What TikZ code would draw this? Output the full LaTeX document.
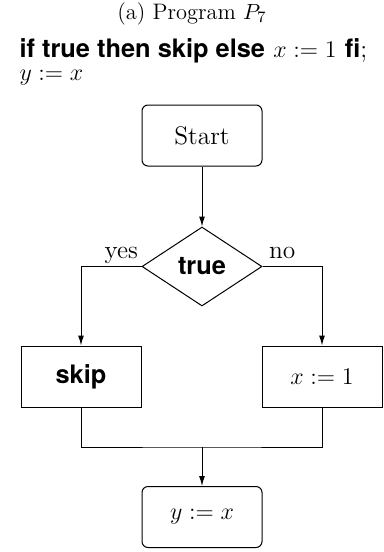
\documentclass[tikz,border=0pt]{standalone}
\usepackage{fontspec}
\usepackage{amsmath}
\usetikzlibrary{arrows.meta,shapes.geometric}
\newfontfamily\keyfont{TeX Gyre Heros}
\newcommand{\kw}[1]{{\keyfont\bfseries #1}}

\begin{document}
\begin{tikzpicture}[x=0.5pt, y=-0.5pt, >={Latex[length=5pt,width=3pt]},
  line width=0.5pt, font=\fontsize{12.7}{15}\selectfont,
  roundbox/.style={draw, rounded corners=3pt, minimum width=60pt,
    minimum height=30.5pt, inner sep=0pt},
  plainbox/.style={draw, minimum width=60pt, minimum height=30.5pt,
    inner sep=0pt},
  decision/.style={draw, diamond, minimum width=60pt, minimum height=39.5pt,
    inner sep=0pt}]

  \useasboundingbox (0,0) rectangle (384,552);

  % ============== Caption and program text ==============
  \node[anchor=base, font=\fontsize{11.2}{13}\selectfont] (caption) at (192,19)
    {(a) Program $P_7$};
  \node[anchor=base west, inner sep=0pt] (line1) at (19,57)
    {\kw{if true then skip else} $x := 1$ \kw{fi};};
  \node[anchor=base west, inner sep=0pt] (line2) at (19,80) {$y := x$};

  % ============== Flowchart ==============
  \node[roundbox] (start) at (202,135.5) {Start};
  \node[decision] (cond) at (202,266.5) {\kw{true}};
  \node[plainbox] (skipbox) at (81,376.5) {\kw{skip}};
  \node[plainbox] (assignx) at (322,376.5) {$x := 1$};
  \node[roundbox] (assigny) at (202,517) {$y := x$};

  % Branches
  \draw[->] (start) -- (cond);
  \draw[->] (cond.west) node[anchor=base east, xshift=-0.5pt, yshift=4pt,
    inner sep=1pt] (yeslbl) {yes} -| (skipbox.north);
  \draw[->] (cond.east) node[anchor=base west, xshift=2pt, yshift=4pt,
    inner sep=1pt] (nolbl) {no} -| (assignx.north);

  % Join
  \coordinate (join) at (202,447);
  \draw (skipbox.south) |- (join) -| (assignx.south);
  \draw[->] (join) -- (assigny.north);

\end{tikzpicture}
\end{document}
